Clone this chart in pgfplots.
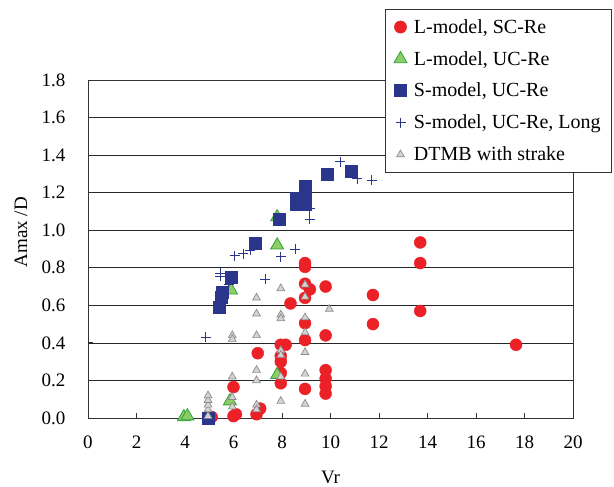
\documentclass[border=0pt]{standalone}
\usepackage{pgfplots}
\pgfplotsset{compat=1.18}
\usepackage{fontspec}
\setmainfont{Liberation Serif}
\newcommand{\fs}{\fontsize{19}{22}\selectfont}
\newcommand{\fl}{\fontsize{20}{23}\selectfont}
\definecolor{cred}{RGB}{236,32,39}
\definecolor{cgreenf}{RGB}{140,205,100}
\definecolor{cgreene}{RGB}{50,160,60}
\definecolor{cnavy}{RGB}{42,53,140}
\definecolor{cgrayf}{RGB}{212,212,212}
\definecolor{cgraye}{RGB}{140,140,140}
\begin{document}
\begin{tikzpicture}
\begin{axis}[
  scale only axis,
  width=485pt, height=338pt,
  xmin=0, xmax=20, ymin=0, ymax=1.8,
  xtick={0,2,...,20},
  ytick={0,0.2,...,1.8},
  tick align=inside,
  xtick pos=bottom, ytick pos=left,
  major tick length=5pt,
  ymajorgrids,
  grid style={black!85, line width=0.7pt},
  axis line style={black!80, line width=0.9pt},
  tick style={black!80, line width=0.8pt},
  tick label style={font=\fs},
  yticklabel style={/pgf/number format/fixed, /pgf/number format/fixed zerofill, /pgf/number format/precision=1, /pgf/number format/assume math mode=true, xshift=-19pt},
  xticklabel style={/pgf/number format/assume math mode=true, yshift=-14pt},
  xlabel={Vr}, ylabel={Amax /D},
  label style={font=\fs},
  xlabel style={at={(axis description cs:0.5,-0.175)}, anchor=center},
  ylabel style={at={(axis description cs:-0.138,0.55)}, anchor=center},
  legend style={font=\fl, at={(axis description cs:1.0804,1.21)}, anchor=north east,
    draw=black!80, fill=white, line width=0.7pt, row sep=12.5pt, inner xsep=9pt, inner ysep=8pt,
    /tikz/every odd column/.append style={column sep=5pt}},
  legend cell align=left,
]
\addplot[only marks, mark=*, mark size=6pt, color=cred, mark options={fill=cred, draw=cred}] table {
x y
5.1 0.005
6.0 0.01
6.1 0.02
6.0 0.165
7.0 0.345
7.1 0.05
6.95 0.02
7.95 0.39
8.15 0.39
7.95 0.33
7.95 0.30
7.95 0.24
7.95 0.185
8.35 0.61
8.95 0.825
8.95 0.805
8.95 0.715
9.15 0.685
8.95 0.64
8.95 0.505
8.95 0.415
8.95 0.155
9.8 0.70
9.8 0.44
9.8 0.255
9.8 0.21
9.8 0.17
9.8 0.13
11.75 0.655
11.75 0.50
13.7 0.935
13.7 0.825
13.7 0.57
17.65 0.39
};
\addlegendentry{L-model, SC-Re}
\addplot[only marks, mark=triangle*, mark size=7.5pt, color=cgreene, mark options={fill=cgreenf, draw=cgreene, line width=0.8pt}] table {
x y
3.95 0.005
4.1 0.01
5.85 0.09
5.9 0.68
7.8 0.23
7.8 0.92
7.8 1.07
};
\addlegendentry{L-model, UC-Re}
\addplot[only marks, mark=square*, mark size=6pt, color=cnavy, mark options={fill=cnavy, draw=cnavy}] table {
x y
4.95 0.0
5.4 0.59
5.5 0.645
5.55 0.67
5.9 0.75
6.9 0.93
7.9 1.06
8.6 1.14
8.95 1.14
8.6 1.17
8.95 1.19
8.95 1.235
9.85 1.30
10.85 1.315
};
\addlegendentry{S-model, UC-Re}
\addplot[only marks, mark=+, mark size=5pt, color=cnavy, mark options={line width=0.8pt}] table {
x y
4.85 0.43
5.45 0.77
5.45 0.755
5.8 0.71
6.05 0.865
6.4 0.875
6.7 0.895
7.3 0.74
7.95 0.86
8.55 0.90
9.15 1.115
9.15 1.06
10.4 1.365
11.1 1.275
11.7 1.265
};
\addlegendentry{S-model, UC-Re, Long}
\addplot[only marks, mark=triangle*, mark size=4.5pt, color=cgraye, mark options={fill=cgrayf, draw=cgraye, line width=0.7pt}] table {
x y
4.95 0.01
4.95 0.045
4.95 0.07
4.95 0.095
4.95 0.12
5.95 0.44
5.95 0.42
5.95 0.22
5.95 0.11
5.95 0.06
6.95 0.64
6.95 0.555
6.95 0.44
6.95 0.255
6.95 0.20
6.95 0.07
6.95 0.045
7.95 0.69
7.95 0.55
7.95 0.53
7.95 0.36
7.95 0.335
7.95 0.22
7.95 0.09
8.95 0.71
8.95 0.645
8.95 0.535
8.95 0.455
8.95 0.35
8.95 0.235
8.95 0.075
9.95 0.58
};
\addlegendentry{DTMB with strake}
\end{axis}
\path (current axis.south west) ++(-88pt,-68pt);
\path (current axis.north east) ++(41pt,80pt);
\end{tikzpicture}
\end{document}
